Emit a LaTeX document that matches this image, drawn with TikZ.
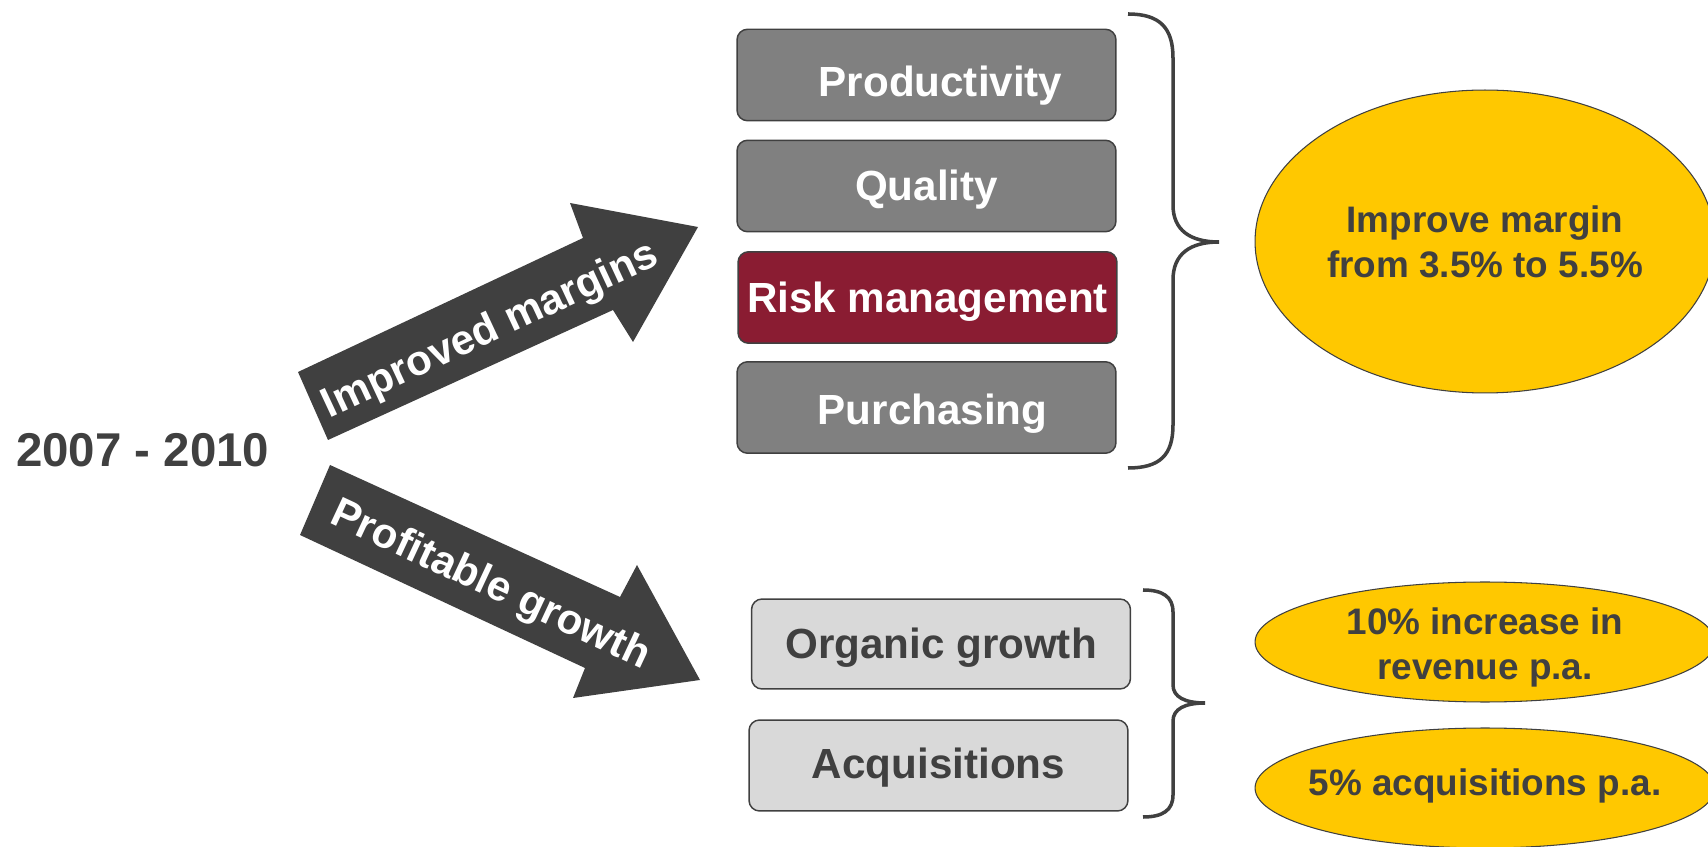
\documentclass[tikz,border=0pt]{standalone}
\usepackage{fontspec}
\setmainfont{Liberation Sans}
\usetikzlibrary{shapes.geometric}

\definecolor{darkgrey}{HTML}{404040}
\definecolor{boxgrey}{HTML}{808080}
\definecolor{lightgrey}{HTML}{D9D9D9}
\definecolor{riskred}{HTML}{8A1C32}
\definecolor{goalyellow}{HTML}{FFC800}

\tikzset{
  lever/.style={draw=darkgrey, line width=0.85pt, rounded corners=6pt,
    minimum width=7.58cm, minimum height=1.83cm, inner sep=0pt,
    text height=17pt, text depth=0pt,
    font=\fontsize{24}{28}\selectfont\bfseries},
  upperlever/.style={lever, fill=boxgrey, text=white},
  lowerlever/.style={lever, fill=lightgrey, text=darkgrey},
  goal/.style={ellipse, draw=darkgrey, line width=0.6pt, fill=goalyellow,
    inner sep=0pt, minimum width=9.2cm, text=darkgrey, align=center,
    font=\fontsize{21}{25.5}\selectfont\bfseries},
  goaltext/.style={text=darkgrey, align=center, inner sep=0pt,
    font=\fontsize{21}{25.5}\selectfont\bfseries},
  bigarrow/.style={fill=darkgrey},
  arrowtext/.style={text=white, font=\fontsize{24}{28}\selectfont\bfseries},
  bracket/.style={draw=darkgrey, line width=2pt},
}

\begin{document}
\begin{tikzpicture}[x=0.02cm, y=-0.02cm]
    \useasboundingbox (0,0) rectangle (1708,847);

    % period
    \node[anchor=west, text=darkgrey, font=\fontsize{27}{32}\selectfont\bfseries]
      (period) at (10,450) {2007 - 2010};

    % the two big arrows
    \fill[bigarrow]
      (298,372) -- (583,238) -- (570,203) -- (698,227) -- (633,342) -- (613,310) -- (328,440) -- cycle;
    \node[arrowtext, rotate=25] (margins) at (491,331) {Improved margins};
    \fill[bigarrow]
      (330,465) -- (620,597) -- (637,565) -- (700,680) -- (573,698) -- (585,668) -- (300,535) -- cycle;
    \node[arrowtext, rotate=-25] (growth) at (490,586) {Profitable growth};

    % margin levers
    \node[upperlever, text height=24pt] (productivity) at (926.5,75) {\hspace*{16pt}Productivity};
    \node[upperlever] (quality) at (926.5,186) {Quality};
    \node[upperlever, fill=riskred] (risk) at (927.5,297.5) {Risk management};
    \node[upperlever, text height=19pt] (purchasing) at (926.5,407.5) {\hspace*{7pt}Purchasing};

    % growth levers
    \node[lowerlever, minimum height=1.8cm] (organic) at (941,644) {Organic growth};
    \node[lowerlever, minimum height=1.82cm, text height=15pt] (acquisitions) at (938.5,765.5) {Acquisitions};

    % braces
    \draw[bracket]
      (1128,14) .. controls (1160,14) and (1173,28) .. (1173,58) -- (1173,205)
      .. controls (1173,230) and (1190,242) .. (1219,242)
      .. controls (1190,242) and (1173,254) .. (1173,280) -- (1173,425)
      .. controls (1173,455) and (1160,468) .. (1128,468);
    \draw[bracket]
      (1143,590) .. controls (1163,590) and (1173,597) .. (1173,612) -- (1173,685)
      .. controls (1173,697) and (1185,703) .. (1205,703)
      .. controls (1185,703) and (1173,709) .. (1173,721) -- (1173,795)
      .. controls (1173,810) and (1163,817) .. (1143,817);

    % targets
    \node[goal, minimum height=6.06cm] (margingoal) at (1485,241.5)
      {Improve margin\\from 3.5\% to 5.5\%};
    \node[goal, minimum height=2.4cm] (revenuegoal) at (1485,642) {};
    \node[goaltext] (revenuetext) at ([yshift=-3pt]revenuegoal.center)
      {10\% increase in\\revenue p.a.};
    \node[goal, minimum height=2.4cm] (acqgoal) at (1485,788) {};
    \node[goaltext] (acqtext) at ([yshift=1pt]acqgoal.center) {5\% acquisitions p.a.};
\end{tikzpicture}
\end{document}
